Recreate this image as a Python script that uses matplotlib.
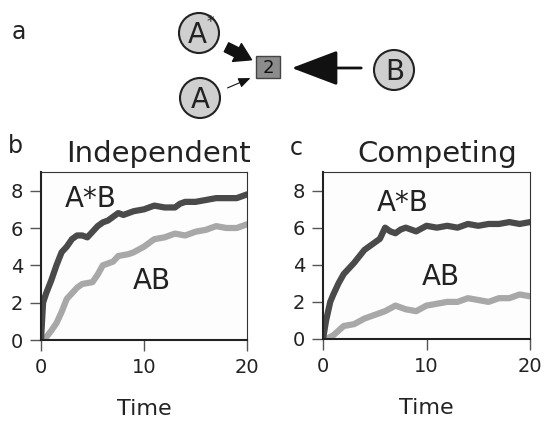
import numpy as np
import matplotlib.pyplot as plt
from matplotlib.patches import Circle, Rectangle, FancyArrowPatch

# values
t_ind_ab_star = [0, 0.2, 0.5, 1, 1.5, 2, 2.5, 3, 3.5, 4, 4.5, 5, 5.5, 6, 6.5, 7, 7.5, 8, 9, 10,
                 11, 12, 13, 13.5, 14, 15, 16, 17, 18, 19, 19.5, 20]
ind_ab_star = [0, 2.0, 2.5, 3.2, 4.0, 4.7, 5.0, 5.4, 5.6, 5.6, 5.5, 5.8, 6.1, 6.3, 6.4, 6.6, 6.8, 6.7, 6.9, 7.0,
               7.2, 7.1, 7.1, 7.3, 7.4, 7.4, 7.5, 7.6, 7.6, 7.6, 7.7, 7.8]
t_ind_ab = [0.3, 1, 1.5, 2, 2.5, 3, 3.5, 4, 5, 5.5, 6, 7, 7.5, 8.5, 9, 10, 11, 12, 13, 14,
            15, 16, 17, 18, 19, 20]
ind_ab = [0, 0.5, 0.9, 1.5, 2.2, 2.5, 2.8, 3.0, 3.1, 3.5, 4.0, 4.2, 4.5, 4.6, 4.7, 5.0, 5.4, 5.5, 5.7, 5.6,
          5.8, 5.9, 6.1, 6.0, 6.0, 6.2]

t_comp_ab_star = [0, 0.3, 0.7, 1, 1.5, 2, 3, 4, 5, 5.5, 6, 6.5, 7, 7.5, 8, 9, 10, 11, 12, 13,
                  14, 15, 16, 17, 18, 19, 20]
comp_ab_star = [0, 1.0, 2.0, 2.4, 3.0, 3.5, 4.1, 4.8, 5.2, 5.4, 6.0, 5.8, 5.7, 5.9, 6.0, 5.8, 6.1, 6.0, 6.1, 6.0,
                6.2, 6.1, 6.2, 6.2, 6.3, 6.2, 6.3]
t_comp_ab = [0.3, 1, 2, 3, 4, 5, 6, 7, 8, 9, 10, 11, 12, 13, 14, 15, 16, 17, 18, 19, 20]
comp_ab = [0, 0.2, 0.7, 0.8, 1.1, 1.3, 1.5, 1.8, 1.6, 1.5, 1.8, 1.9, 2.0, 2.0, 2.2, 2.1, 2.0, 2.2, 2.2, 2.4, 2.3]

dark = '#4a4a4a'
light = '#a8a8a8'
ink = '#222222'

fig = plt.figure(figsize=(5.46, 4.21), dpi=100)

# diagram overlay in pixel coordinates
ov = fig.add_axes([0, 0, 1, 1], zorder=0)
ov.set_xlim(0, 546)
ov.set_ylim(421, 0)
ov.axis('off')

for (cx, cy) in [(199, 33), (200, 98), (394, 70)]:
    ov.add_patch(Circle((cx, cy), 20, fc='#cfcfcf', ec=ink, lw=1.5))
ov.text(197, 35, 'A', fontsize=20, ha='center', va='center', color=ink)
ov.text(210.5, 22, '*', fontsize=11, ha='center', va='center', color=ink)
ov.text(200, 100, 'A', fontsize=20, ha='center', va='center', color=ink)
ov.text(395, 72, 'B', fontsize=20, ha='center', va='center', color=ink)

ov.add_patch(Rectangle((256, 56), 24, 22, fc='#8c8c8c', ec='#444444', lw=1))
ov.text(268, 68, '2', fontsize=13, ha='center', va='center', color='#111111')

ov.add_patch(FancyArrowPatch((224, 46), (254, 61),
                             arrowstyle='simple,head_width=1.1,head_length=0.9,tail_width=0.55',
                             mutation_scale=13, color='#111111'))
ov.add_patch(FancyArrowPatch((225, 89), (253, 77), arrowstyle='-|>,head_width=0.25,head_length=0.6',
                             mutation_scale=12, color='#111111', lw=0.8))
ov.add_patch(FancyArrowPatch((364, 68), (289, 68), arrowstyle='-|>,head_width=0.55,head_length=1.45',
                             mutation_scale=20, color='#111111', lw=2))

fig.text(12 / 546, 1 - 39 / 421, 'a', fontsize=17, color=ink)
fig.text(8 / 546, 1 - 153 / 421, 'b', fontsize=17, color=ink)
fig.text(290 / 546, 1 - 155 / 421, 'c', fontsize=17, color=ink)

panels = [
    ([41 / 546, 1 - 340 / 421, 206 / 546, 168 / 421], 'Independent', 158,
     t_ind_ab_star, ind_ab_star, t_ind_ab, ind_ab, (2.3, 7.1), (8.9, 2.75)),
    ([323 / 546, 1 - 339 / 421, 207 / 546, 167 / 421], 'Competing', 437,
     t_comp_ab_star, comp_ab_star, t_comp_ab, comp_ab, (5.2, 6.9), (9.5, 2.9)),
]

for pos, title, tx, t1, y1, t2, y2, p1, p2 in panels:
    ax = fig.add_axes(pos, zorder=1)
    ax.plot(t2, y2, color=light, lw=4.5, solid_capstyle='round', solid_joinstyle='round')
    ax.plot(t1, y1, color=dark, lw=4.5, solid_capstyle='round', solid_joinstyle='round')
    ax.set_xlim(0, 20)
    ax.set_ylim(0, 9)
    ax.set_xticks([0, 10, 20])
    ax.set_yticks([0, 2, 4, 6, 8])
    ax.tick_params(direction='out', length=8, width=1, color='#555555', labelsize=14,
                   labelcolor=ink, pad=5)
    for s in ['top', 'right']:
        ax.spines[s].set_linewidth(0.8)
        ax.spines[s].set_color('#333333')
    for s in ['left', 'bottom']:
        ax.spines[s].set_linewidth(1.5)
        ax.spines[s].set_color(ink)
    ax.set_facecolor('#fdfdfd')
    ax.text(p1[0], p1[1], 'A*B', fontsize=20, color=ink)
    ax.text(p2[0], p2[1], 'AB', fontsize=20, color=ink)
    fig.text(tx / 546, 1 - 162 / 421, title, fontsize=21, color=ink, ha='center', va='baseline')
    ax.set_xlabel('Time', fontsize=16, color=ink, labelpad=16)

fig.savefig('out.png', dpi=100)
